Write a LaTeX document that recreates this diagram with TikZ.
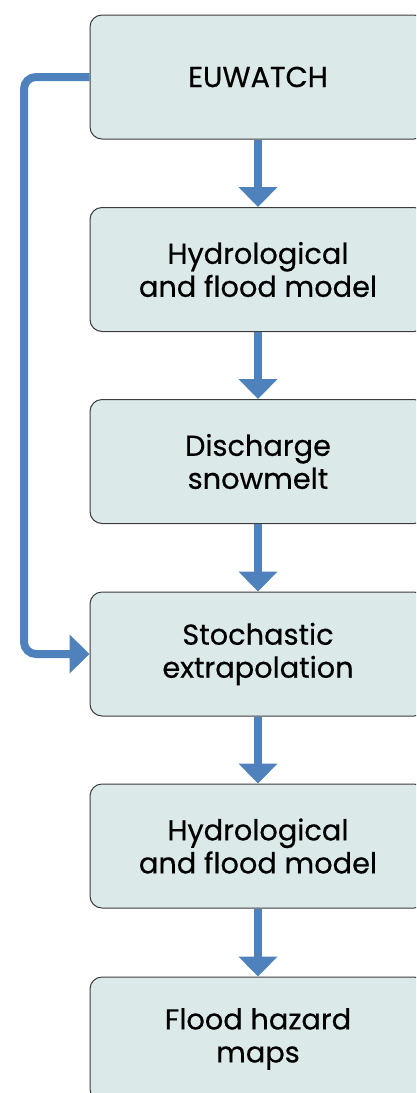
\documentclass[tikz,border=0pt]{standalone}
\usepackage{fontspec}
\newfontfamily\boxfont{Poppins}[FakeBold=0.5]
\usetikzlibrary{arrows.meta}
\definecolor{boxfill}{RGB}{220,233,233}
\definecolor{boxline}{RGB}{60,60,60}
\definecolor{arrowblue}{RGB}{79,129,189}
\tikzset{
  stepbox/.style={draw=boxline, line width=1pt, fill=boxfill, rounded corners=12pt,
    minimum width=336pt, minimum height=124pt, align=center, inner sep=0pt,
    font=\boxfont\fontsize{28.8}{33}\selectfont, text=black},
  flow/.style={draw=arrowblue, line width=8pt,
    -{Triangle[width=38pt,length=20pt]}}
}
\begin{document}
\begin{tikzpicture}[x=1pt,y=-1pt]
\useasboundingbox (0,0) rectangle (416,1093);
\clip (0,0) rectangle (416,1093);
\node[stepbox] (b1) at (258,77) {\raisebox{-3pt}{EUWATCH}};
\node[stepbox] (b2) at (258,269.5) {Hydrological\\and flood model};
\node[stepbox] (b3) at (258,461.5) {Discharge\\snowmelt};
\node[stepbox] (b4) at (258,654) {Stochastic\\extrapolation};
\node[stepbox] (b5) at (258,846) {Hydrological\\and flood model};
\node[stepbox] (b6) at (258,1039) {Flood hazard\\maps};
\draw[flow] (b1) -- (b2);
\draw[flow] (b2) -- (b3);
\draw[flow] (b3) -- (b4);
\draw[flow] (b4) -- (b5);
\draw[flow] (b5) -- (b6);
\draw[flow, rounded corners=12pt] (b1.west) -- (24,77) -- (24,654) -- (b4.west);
\end{tikzpicture}
\end{document}
